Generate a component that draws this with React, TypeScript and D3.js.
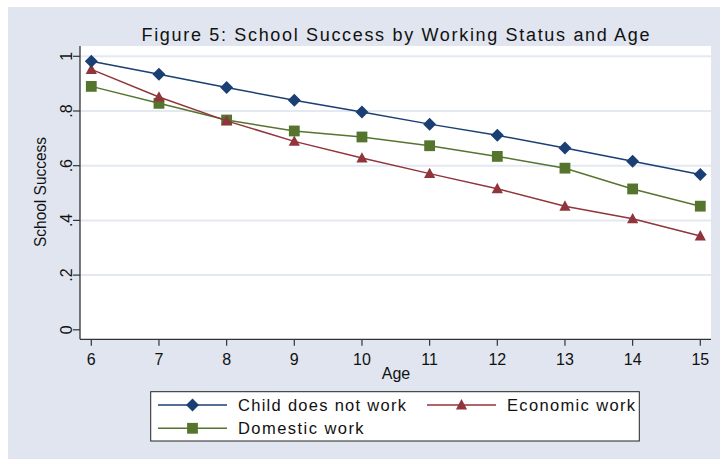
import React from "react";
import * as d3 from "d3";

const ages = [6, 7, 8, 9, 10, 11, 12, 13, 14, 15];
const noWork = [0.982, 0.934, 0.886, 0.839, 0.796, 0.752, 0.711, 0.665, 0.616, 0.568];
const economic = [0.952, 0.851, 0.764, 0.689, 0.628, 0.571, 0.516, 0.452, 0.406, 0.343];
const domestic = [0.890, 0.828, 0.767, 0.727, 0.705, 0.673, 0.634, 0.591, 0.515, 0.452];
const yTicks = [0, 0.2, 0.4, 0.6, 0.8, 1];
const yTickLabels = ["0", ".2", ".4", ".6", ".8", "1"];

const BLUE = "#1a3f73";
const RED = "#90353b";
const GREEN = "#55752f";
const BG = "#e0e5ef";
const GRID = "#e4e8f1";
const FONT = "'Liberation Sans', Arial, sans-serif";

const W = 720, H = 459;
const plot = { left: 80, right: 711, top: 46, bottom: 339.3 };

const x = d3.scaleLinear().domain([6, 15]).range([91.3, 700.3]);
const y = d3.scaleLinear().domain([0, 1]).range([329.8, 56.3]);

type Shape = "diamond" | "triangle" | "square";

function Marker({ shape, cx, cy, color }: { shape: Shape; cx: number; cy: number; color: string }) {
  if (shape === "diamond") {
    const r = 6.5;
    return <path d={`M${cx},${cy - r}L${cx + r},${cy}L${cx},${cy + r}L${cx - r},${cy}Z`} fill={color} />;
  }
  if (shape === "triangle") {
    const s = 5.6;
    return <path d={`M${cx},${cy - s * 1.05}L${cx + s},${cy + s * 0.8}L${cx - s},${cy + s * 0.8}Z`} fill={color} />;
  }
  const h = 5.4;
  return <rect x={cx - h} y={cy - h} width={h * 2} height={h * 2} fill={color} />;
}

const series: { name: string; values: number[]; color: string; shape: Shape }[] = [
  { name: "Domestic work", values: domestic, color: GREEN, shape: "square" },
  { name: "Economic work", values: economic, color: RED, shape: "triangle" },
  { name: "Child does not work", values: noWork, color: BLUE, shape: "diamond" },
];

export default function App() {
  const line = d3
    .line<number>()
    .x((_, i) => x(ages[i]))
    .y((d) => y(d));

  const legendItems = [
    { label: "Child does not work", color: BLUE, shape: "diamond" as Shape, kx: 158, ky: 405, tl: 168 },
    { label: "Economic work", color: RED, shape: "triangle" as Shape, kx: 427, ky: 405, tl: 128 },
    { label: "Domestic work", color: GREEN, shape: "square" as Shape, kx: 158, ky: 428.3, tl: 125.6 },
  ];

  return (
    <svg width={W} height={H} style={{ position: "absolute", left: 0, top: 0, fontFamily: FONT }}>
      <rect x={0} y={0} width={W} height={H} fill="#ffffff" />
      <rect x={8} y={7} width={W - 8} height={H - 7} fill={BG} />
      <text x={395.5} y={40.5} textAnchor="middle" fontSize={18} fill="#111" textLength={508} lengthAdjust="spacing">
        Figure 5: School Success by Working Status and Age
      </text>
      <rect x={plot.left} y={plot.top} width={plot.right - plot.left} height={plot.bottom - plot.top} fill="#ffffff" />
      {yTicks.filter((t) => t > 0).map((t) => (
        <line key={"g" + t} x1={plot.left} x2={plot.right} y1={y(t)} y2={y(t)} stroke={GRID} strokeWidth={2} />
      ))}
      {/* axes */}
      <line x1={plot.left} x2={plot.left} y1={plot.top} y2={plot.bottom} stroke="#333" strokeWidth={1.3} />
      <line x1={plot.left} x2={plot.right} y1={plot.bottom} y2={plot.bottom} stroke="#333" strokeWidth={1.3} />
      {yTicks.map((t, i) => (
        <g key={"yt" + t}>
          <line x1={plot.left - 7} x2={plot.left} y1={y(t)} y2={y(t)} stroke="#333" strokeWidth={1.2} />
          <text
            transform={`translate(${71.5},${y(t)}) rotate(-90)`}
            textAnchor="middle"
            fontSize={16}
            fill="#111"
          >
            {yTickLabels[i]}
          </text>
        </g>
      ))}
      {ages.map((a) => (
        <g key={"xt" + a}>
          <line x1={x(a)} x2={x(a)} y1={plot.bottom} y2={plot.bottom + 6.5} stroke="#333" strokeWidth={1.2} />
          <text x={x(a)} y={364.5} textAnchor="middle" fontSize={16} fill="#111">
            {a}
          </text>
        </g>
      ))}
      <text x={396} y={379} textAnchor="middle" fontSize={16} fill="#111">
        Age
      </text>
      <text transform={`translate(${45.5},${192}) rotate(-90)`} textAnchor="middle" fontSize={16} fill="#111" textLength={110} lengthAdjust="spacingAndGlyphs">
        School Success
      </text>
      {/* series */}
      {series.map((s) => (
        <g key={s.name}>
          <path d={line(s.values) || ""} fill="none" stroke={s.color} strokeWidth={1.5} />
          {s.values.map((v, i) => (
            <Marker key={i} shape={s.shape} cx={x(ages[i])} cy={y(v)} color={s.color} />
          ))}
        </g>
      ))}
      {/* legend */}
      <rect x={150.7} y={391.7} width={488.6} height={49.3} fill="#ffffff" stroke="#222" strokeWidth={1} />
      {legendItems.map((it) => (
        <g key={it.label}>
          <line x1={it.kx} x2={it.kx + 69} y1={it.ky} y2={it.ky} stroke={it.color} strokeWidth={1.5} />
          <Marker shape={it.shape} cx={it.kx + 34.5} cy={it.ky} color={it.color} />
          <text x={it.kx + 80} y={it.ky + 6} fontSize={16.5} fill="#111" textLength={it.tl} lengthAdjust="spacing">
            {it.label}
          </text>
        </g>
      ))}
    </svg>
  );
}
